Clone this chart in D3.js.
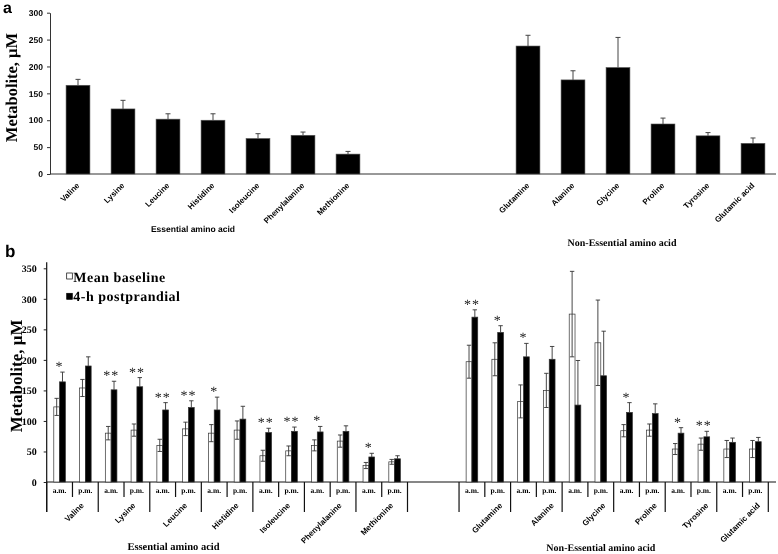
<!DOCTYPE html>
<html><head><meta charset="utf-8">
<script src="https://cdn.jsdelivr.net/npm/d3@7"></script>
<style>body{margin:0;background:#fff}svg{display:block;will-change:transform;text-rendering:geometricPrecision}</style>
</head><body>
<svg id="chart" width="778" height="554"></svg>
<script>
// ---------- Panel a data ----------
const aEssential = ["Valine","Lysine","Leucine","Histidine","Isoleucine","Phenylalanine","Methionine"];
const aNonEssential = ["Glutamine","Alanine","Glycine","Proline","Tyrosine","Glutamic acid"];
const aValues = [165,121,102,100,66,72,37, 238,175,198,93,71,57];
const aErrors = [11,16,10,12,9,6,5, 20,17,56,11,6,10];
const aTicks = [0,50,100,150,200,250,300];

// ---------- Panel b data ----------
const bEssential = ["Valine","Lysine","Leucine","Histidine","Isoleucine","Phenylalanine","Methionine"];
const bNonEssential = ["Glutamine","Alanine","Glycine","Proline","Tyrosine","Glutamic acid"];
const bTimes = ["a.m.","p.m."];
const bSeries = ["Mean baseline","4-h postprandial"];
const bBaseAM    = [123,80,60,80,43,60,27, 197,132,275,84,54,54];
const bBaseAMErr = [14,11,10,14,9,9,5, 27,27,70,10,9,14];
const bBasePM    = [154,85,87,85,51,67,33, 201,150,228,85,62,54];
const bBasePMErr = [14,10,11,15,8,10,4, 27,28,70,10,10,14];
const bPostAM    = [164,151,118,118,81,82,41, 270,205,126,114,80,65];
const bPostAMErr = [16,14,12,21,7,9,6, 12,22,73,16,9,7];
const bPostPM    = [190,156,122,103,83,83,38, 245,201,174,112,74,66];
const bPostPMErr = [15,15,11,21,7,9,5, 11,21,73,16,9,7];
const bStarsAM = ["*","**","**","*","**","*","*", "**","*","","*","*",""];
const bStarsPM = ["","**","**","","**","","", "*","","","","**",""];
const bTicks = [0,50,100,150,200,250,300,350];

const SANS = "'Liberation Sans', Arial, sans-serif";
const SERIF = "'Liberation Serif', 'Times New Roman', serif";
const svg = d3.select("#chart");
svg.append("rect").attr("width",778).attr("height",554).attr("fill","#fff");

// ================= PANEL A =================
const aCats = [...aEssential, ...aNonEssential];
const aSlots = [...aEssential, "gap1","gap2","gap3", ...aNonEssential];
const xA = d3.scaleBand().domain(aSlots).range([55.5, 775.5]).paddingInner(0.47).paddingOuter(0.235);
const yA = d3.scaleLinear().domain([0,300]).range([174, 12.7]);
const gA = svg.append("g");

const axA = gA.append("g").attr("transform","translate(50,0)")
  .call(d3.axisLeft(yA).tickValues(aTicks).tickSize(3).tickSizeOuter(0).tickPadding(4));
axA.selectAll("text").attr("font-family",SANS).attr("font-weight","bold").attr("font-size","8.5px").attr("fill","#000");
axA.select(".domain").attr("stroke","#333");
axA.selectAll(".tick line").attr("stroke","#333");
gA.append("line").attr("x1",50).attr("x2",776).attr("y1",yA(0)).attr("y2",yA(0)).attr("stroke","#333");

const aData = aCats.map((c,i)=>({c, v:aValues[i], e:aErrors[i], ess: i < aEssential.length}));
gA.selectAll("rect.bar").data(aData).join("rect").attr("class","bar")
  .attr("x",d=>xA(d.c)).attr("y",d=>yA(d.v))
  .attr("width",xA.bandwidth()).attr("height",d=>yA(0)-yA(d.v))
  .attr("fill","#000").attr("stroke","#555").attr("stroke-width",0.6);
gA.selectAll("line.err").data(aData).join("line").attr("class","err")
  .attr("x1",d=>xA(d.c)+xA.bandwidth()/2).attr("x2",d=>xA(d.c)+xA.bandwidth()/2)
  .attr("y1",d=>yA(d.v)).attr("y2",d=>yA(d.v+d.e)).attr("stroke","#444").attr("stroke-width",1);
gA.selectAll("line.cap").data(aData).join("line").attr("class","cap")
  .attr("x1",d=>xA(d.c)+xA.bandwidth()/2-2.5).attr("x2",d=>xA(d.c)+xA.bandwidth()/2+2.5)
  .attr("y1",d=>yA(d.v+d.e)).attr("y2",d=>yA(d.v+d.e)).attr("stroke","#444").attr("stroke-width",1);
gA.selectAll("text.cat").data(aData).join("text").attr("class","cat")
  .attr("transform",d=>`translate(${xA(d.c)+xA.bandwidth()/2+2},186) rotate(-45)`)
  .attr("text-anchor","end").attr("font-family",SANS).attr("font-weight","bold").attr("font-size","8px")
  .attr("fill","#000").text(d=>d.c);

gA.append("text").attr("x",3).attr("y",13).attr("font-family",SANS).attr("font-weight","bold").attr("font-size","16px").text("a");
gA.append("text").attr("transform","translate(16.7,87.5) rotate(-90)").attr("text-anchor","middle")
  .attr("font-family",SERIF).attr("font-weight","bold").attr("font-size","16.5px").text("Metabolite, µM");
gA.append("text").attr("x",193).attr("y",232).attr("text-anchor","middle")
  .attr("font-family",SANS).attr("font-weight","bold").attr("font-size","8.5px").text("Essential amino acid");
gA.append("text").attr("x",622).attr("y",246).attr("text-anchor","middle")
  .attr("font-family",SERIF).attr("font-weight","bold").attr("font-size","10px").text("Non-Essential amino acid");

// ================= PANEL B =================
const bCats = [...bEssential, ...bNonEssential];
const bSlots = [...bEssential, "gap", ...bNonEssential];
const xB = d3.scaleBand().domain(bSlots).range([46.7, 768.3]);
const xT = d3.scaleBand().domain(bTimes).range([0, xB.bandwidth()]);
const xS = d3.scaleBand().domain(bSeries).range([xT.bandwidth()/2-5.8, xT.bandwidth()/2+5.8]);
const yB = d3.scaleLinear().domain([0,350]).range([482, 268.3]);
const gB = svg.append("g");

const axB = gB.append("g").attr("transform","translate(46.7,0)")
  .call(d3.axisLeft(yB).tickValues(bTicks).tickSize(3).tickSizeOuter(0).tickPadding(7));
axB.select(".domain").remove();
axB.selectAll("text").attr("font-family",SERIF).attr("font-weight","bold").attr("font-size","10px").attr("fill","#000");
axB.selectAll(".tick line").attr("stroke","#222");
gB.append("line").attr("x1",46.7).attr("x2",46.7).attr("y1",yB(360)).attr("y2",512).attr("stroke","#111").attr("stroke-width",1.2);
gB.append("line").attr("x1",46.7).attr("x2",776).attr("y1",yB(0)).attr("y2",yB(0)).attr("stroke","#111").attr("stroke-width",1.2);

// table separators
const boundaries = bSlots.map(s=>xB(s)).concat([xB.range()[1]]);
gB.selectAll("line.long").data(boundaries).join("line").attr("class","long")
  .attr("x1",d=>d).attr("x2",d=>d).attr("y1",yB(0)).attr("y2",512).attr("stroke","#111").attr("stroke-width",1.2);
gB.selectAll("line.short").data(bCats).join("line").attr("class","short")
  .attr("x1",d=>xB(d)+xB.bandwidth()/2).attr("x2",d=>xB(d)+xB.bandwidth()/2)
  .attr("y1",yB(0)).attr("y2",497).attr("stroke","#111").attr("stroke-width",1.2);

const bData = [];
bCats.forEach((c,i)=>{
  const ess = i < bEssential.length;
  bData.push({c,t:"a.m.",s:bSeries[0],v:bBaseAM[i],e:bBaseAMErr[i],ess});
  bData.push({c,t:"p.m.",s:bSeries[0],v:bBasePM[i],e:bBasePMErr[i],ess});
  bData.push({c,t:"a.m.",s:bSeries[1],v:bPostAM[i],e:bPostAMErr[i],ess});
  bData.push({c,t:"p.m.",s:bSeries[1],v:bPostPM[i],e:bPostPMErr[i],ess});
});
const bx = d=>xB(d.c)+xT(d.t)+xS(d.s);
const bcx = d=>bx(d)+xS.bandwidth()/2;

gB.selectAll("rect.bbar").data(bData).join("rect").attr("class","bbar")
  .attr("x",bx).attr("y",d=>yB(d.v)).attr("width",xS.bandwidth()).attr("height",d=>yB(0)-yB(d.v))
  .attr("fill",d=>d.s===bSeries[0]?"#fff":"#000").attr("stroke","#333").attr("stroke-width",0.7);
gB.selectAll("line.berr").data(bData).join("line").attr("class","berr")
  .attr("x1",bcx).attr("x2",bcx)
  .attr("y1",d=>yB(d.s===bSeries[0]?d.v-d.e:d.v)).attr("y2",d=>yB(d.v+d.e))
  .attr("stroke","#333").attr("stroke-width",0.9);
gB.selectAll("line.bcapt").data(bData).join("line").attr("class","bcapt")
  .attr("x1",d=>bcx(d)-2.2).attr("x2",d=>bcx(d)+2.2)
  .attr("y1",d=>yB(d.v+d.e)).attr("y2",d=>yB(d.v+d.e)).attr("stroke","#333").attr("stroke-width",0.9);
gB.selectAll("line.bcapb").data(bData.filter(d=>d.s===bSeries[0])).join("line").attr("class","bcapb")
  .attr("x1",d=>bcx(d)-2.2).attr("x2",d=>bcx(d)+2.2)
  .attr("y1",d=>yB(d.v-d.e)).attr("y2",d=>yB(d.v-d.e)).attr("stroke","#333").attr("stroke-width",0.9);

// stars
const starData = [];
bCats.forEach((c,i)=>{
  if (bStarsAM[i]) starData.push({c,t:"a.m.",s:bStarsAM[i],top:Math.max(bBaseAM[i]+bBaseAMErr[i],bPostAM[i]+bPostAMErr[i])});
  if (bStarsPM[i]) starData.push({c,t:"p.m.",s:bStarsPM[i],top:Math.max(bBasePM[i]+bBasePMErr[i],bPostPM[i]+bPostPMErr[i])});
});
gB.selectAll("text.star").data(starData).join("text").attr("class","star")
  .attr("x",d=>xB(d.c)+xT(d.t)+xT.bandwidth()/2).attr("y",d=>yB(d.top)-1)
  .attr("text-anchor","middle").attr("font-family",SERIF).attr("font-size","14px").attr("letter-spacing","1px")
  .attr("fill","#222").text(d=>d.s);

// a.m. / p.m. labels
const tl = [];
bCats.forEach(c=>bTimes.forEach(t=>tl.push({c,t})));
gB.selectAll("text.tl").data(tl).join("text").attr("class","tl")
  .attr("x",d=>xB(d.c)+xT(d.t)+xT.bandwidth()/2).attr("y",493)
  .attr("text-anchor","middle").attr("font-family",SERIF).attr("font-weight","bold").attr("font-size","7.5px")
  .attr("fill","#000").text(d=>d.t);

// category labels
gB.selectAll("text.bcat").data(bCats.map((c,i)=>({c,ess:i<bEssential.length}))).join("text").attr("class","bcat")
  .attr("transform",d=>`translate(${xB(d.c)+xB.bandwidth()/2+(d.ess?12:18)},506) rotate(-45)`)
  .attr("text-anchor","end").attr("font-family",SANS).attr("font-weight","bold").attr("font-size","8px")
  .attr("fill","#000").text(d=>d.c);

gB.append("text").attr("x",5).attr("y",257).attr("font-family",SANS).attr("font-weight","bold").attr("font-size","17px").text("b");
gB.append("text").attr("transform","translate(21.7,375.8) rotate(-90)").attr("text-anchor","middle")
  .attr("font-family",SERIF).attr("font-weight","bold").attr("font-size","17px").text("Metabolite, µM");
gB.append("text").attr("x",173.5).attr("y",550).attr("text-anchor","middle")
  .attr("font-family",SERIF).attr("font-weight","bold").attr("font-size","10.5px").text("Essential amino acid");
gB.append("text").attr("x",600.8).attr("y",551).attr("text-anchor","middle")
  .attr("font-family",SERIF).attr("font-weight","bold").attr("font-size","10px").text("Non-Essential amino acid");

// legend
const leg = gB.append("g");
bSeries.forEach((s,i)=>{
  leg.append("rect").attr("x",66.7).attr("y",273+i*20.3).attr("width",5.6).attr("height",6)
    .attr("fill",i===0?"#fff":"#000").attr("stroke","#000").attr("stroke-width",0.7);
  leg.append("text").attr("x",73.3).attr("y",281.7+i*19)
    .attr("font-family",SERIF).attr("font-weight","bold").attr("font-size","14px").attr("letter-spacing","0.5px")
    .text(s);
});
</script>
</body></html>
